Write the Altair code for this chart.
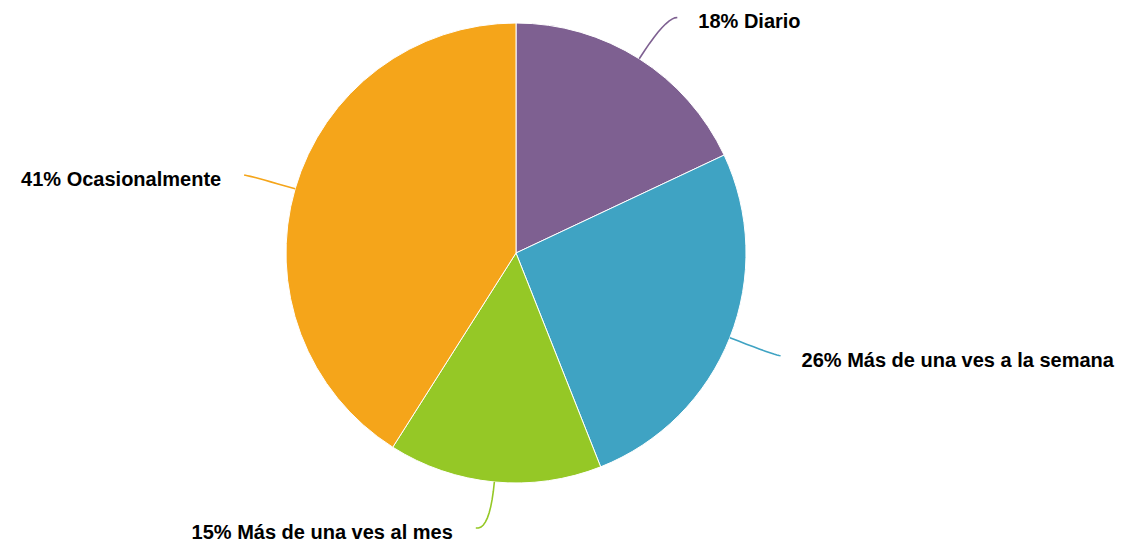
import altair as alt
import pandas as pd

categories = ["Diario", "Más de una ves a la semana", "Más de una ves al mes", "Ocasionalmente"]
values = [18, 26, 15, 41]
colors = ["#7e6091", "#3fa3c3", "#95c826", "#f5a51a"]

df = pd.DataFrame({"cat": categories, "value": values, "order": list(range(len(categories)))})

CX, CY, R = 508, 245, 230
R_ELBOW, HOOK, GAP = 279, 14, 21
Y_MAX = 520

base = alt.Chart(df)
color = alt.Color("cat:N", scale=alt.Scale(domain=categories, range=colors), legend=None)

arc = base.mark_arc(outerRadius=R, stroke="white", strokeWidth=1).encode(
    theta=alt.Theta("value:Q", stack=True),
    order=alt.Order("order:Q"),
    color=color,
    x=alt.value(CX),
    y=alt.value(CY),
)

geo = base.transform_joinaggregate(total="sum(value)").transform_window(
    cum="sum(value)", sort=[alt.SortField("order")], frame=[None, 0]
).transform_calculate(
    ang="(datum.cum - datum.value/2) / datum.total * 2 * PI",
).transform_calculate(
    s="sin(datum.ang)", c="cos(datum.ang)",
).transform_calculate(
    side="datum.s >= 0 ? 1 : -1",
    x0=f"{CX} + {R}*datum.s", y0=f"{CY} - {R}*datum.c",
    x1=f"{CX} + {R_ELBOW}*datum.s", y1=f"{CY} - {R_ELBOW}*datum.c",
).transform_calculate(
    x2=f"datum.x1 + {HOOK}*abs(datum.c)*datum.side", y2=f"min(datum.y1, {Y_MAX})",
    label="datum.value + '% ' + datum.cat",
)

lines = geo.transform_calculate(
    ks="sequence(0, 11)"
).transform_flatten(["ks"], as_=["k"]).transform_calculate(
    t="datum.k / 10"
).transform_calculate(
    lx="(1-datum.t)*(1-datum.t)*datum.x0 + 2*datum.t*(1-datum.t)*datum.x1 + datum.t*datum.t*datum.x2",
    ly="(1-datum.t)*(1-datum.t)*datum.y0 + 2*datum.t*(1-datum.t)*datum.y1 + datum.t*datum.t*datum.y2",
).mark_line(strokeWidth=1.6).encode(
    x=alt.X("lx:Q", scale=None, axis=None),
    y=alt.Y("ly:Q", scale=None, axis=None),
    detail="cat:N",
    order="t:Q",
    color=color,
)

text_style = dict(baseline="middle", dy=5, fontSize=20, fontWeight="bold",
                  font="Liberation Sans", color="black")

text_right = geo.transform_filter("datum.side > 0").mark_text(
    align="left", dx=GAP, **text_style
).encode(
    x=alt.X("x2:Q", scale=None, axis=None),
    y=alt.Y("y2:Q", scale=None, axis=None),
    text="label:N",
)

text_left = geo.transform_filter("datum.side < 0").mark_text(
    align="right", dx=-GAP - 2, **text_style
).encode(
    x=alt.X("x2:Q", scale=None, axis=None),
    y=alt.Y("y2:Q", scale=None, axis=None),
    text="label:N",
)

chart = alt.layer(arc, lines, text_right, text_left).properties(
    width=1107, height=536, autosize=alt.AutoSizeParams(type="none"), padding=0,
    background="white",
).configure_view(stroke=None)

chart.save("out.html", embed_options={"renderer": "svg", "actions": False})
